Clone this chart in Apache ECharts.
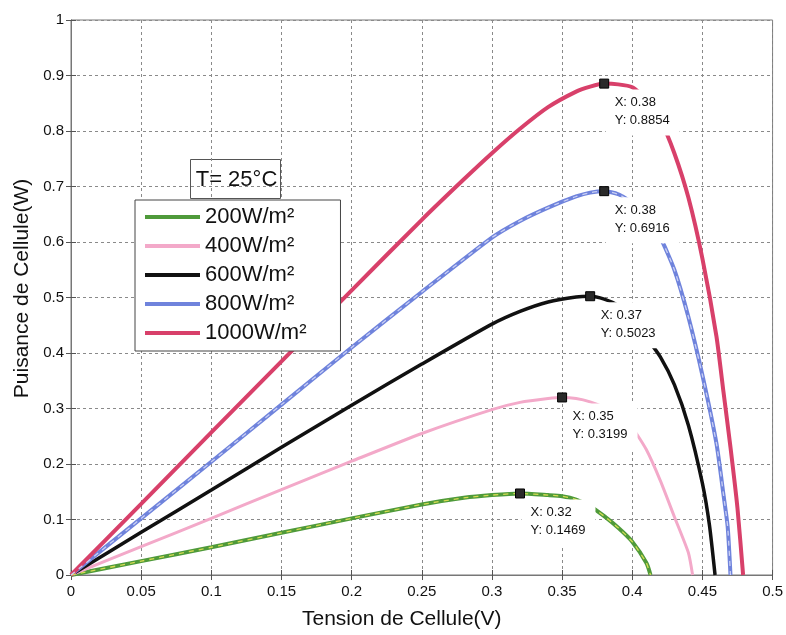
<!DOCTYPE html>
<html>
<head>
<meta charset="utf-8">
<script src="https://cdn.jsdelivr.net/npm/echarts@6/dist/echarts.min.js"></script>
<style>
  html, body { margin: 0; padding: 0; background: #fff; }
  #chart { width: 786px; height: 635px; }
</style>
</head>
<body>
<div id="chart"></div>
<script>
// P-V characteristics of a solar cell at T = 25°C for several irradiance levels
const xTicks = { min: 0, max: 0.5, step: 0.05 };
const yTicks = { min: 0, max: 1, step: 0.1 };

const seriesNames = ['200W/m²', '400W/m²', '600W/m²', '800W/m²', '1000W/m²'];

const v200 = [0, 0.05, 0.1, 0.15, 0.2, 0.25, 0.28, 0.3, 0.32, 0.34, 0.35, 0.36, 0.37, 0.38, 0.39, 0.40, 0.41, 0.413];
const p200 = [0, 0.025, 0.05, 0.076, 0.102, 0.127, 0.139, 0.144, 0.1469, 0.144, 0.142, 0.136, 0.124, 0.106, 0.085, 0.06, 0.022, 0];

const v400 = [0, 0.05, 0.1, 0.15, 0.2, 0.25, 0.3, 0.32, 0.34, 0.35, 0.36, 0.37, 0.38, 0.39, 0.40, 0.41, 0.42, 0.43, 0.44, 0.443];
const p400 = [0, 0.051, 0.102, 0.154, 0.205, 0.255, 0.298, 0.311, 0.318, 0.3199, 0.318, 0.312, 0.302, 0.286, 0.265, 0.226, 0.17, 0.105, 0.04, 0];

const v600 = [0, 0.05, 0.1, 0.15, 0.2, 0.25, 0.3, 0.32, 0.34, 0.36, 0.37, 0.38, 0.39, 0.40, 0.41, 0.42, 0.43, 0.44, 0.45, 0.455, 0.459];
const p600 = [0, 0.077, 0.153, 0.23, 0.306, 0.38, 0.452, 0.475, 0.492, 0.501, 0.5023, 0.497, 0.485, 0.46, 0.428, 0.393, 0.343, 0.27, 0.165, 0.09, 0];

const v800 = [0, 0.05, 0.1, 0.15, 0.2, 0.25, 0.3, 0.32, 0.34, 0.36, 0.37, 0.38, 0.39, 0.40, 0.41, 0.42, 0.43, 0.44, 0.45, 0.46, 0.465, 0.468, 0.47];
const p800 = [0, 0.102, 0.204, 0.307, 0.41, 0.51, 0.608, 0.638, 0.662, 0.682, 0.689, 0.6916, 0.686, 0.671, 0.645, 0.608, 0.55, 0.465, 0.36, 0.237, 0.145, 0.087, 0];

const v1000 = [0, 0.05, 0.1, 0.15, 0.2, 0.25, 0.28, 0.3, 0.32, 0.34, 0.36, 0.37, 0.38, 0.39, 0.40, 0.41, 0.42, 0.43, 0.44, 0.45, 0.46, 0.465, 0.47, 0.475, 0.479];
const p1000 = [0, 0.128, 0.257, 0.385, 0.513, 0.64, 0.713, 0.76, 0.804, 0.843, 0.871, 0.88, 0.8854, 0.884, 0.879, 0.858, 0.82, 0.76, 0.68, 0.57, 0.43, 0.33, 0.23, 0.12, 0];

// maximum power points marked with data tips
const mppV = [0.32, 0.35, 0.37, 0.38, 0.38];
const mppP = [0.1469, 0.3199, 0.5023, 0.6916, 0.8854];

const pairs = (xs, ys) => xs.map((x, i) => [x, ys[i]]);

const colors = ['#4f9a3a', '#f3a9c9', '#111111', '#6f83dc', '#d8406a'];
const widths = [4, 3, 3.5, 4, 4];
const curves = [pairs(v200, p200), pairs(v400, p400), pairs(v600, p600), pairs(v800, p800), pairs(v1000, p1000)];

const font = '"Liberation Sans", Arial, Helvetica, sans-serif';
const SMOOTH = 0.2;

const series = [];
curves.forEach((data, i) => {
  series.push({
    name: seriesNames[i],
    type: 'line',
    data: data,
    showSymbol: false,
    symbol: 'none',
    smooth: SMOOTH,
    color: colors[i],
    lineStyle: { color: colors[i], width: widths[i] },
    z: 2
  });
});
// light dashes running along the green and blue curves
series.push({
  name: 'g-dash', type: 'line', data: curves[0], symbol: 'none', smooth: SMOOTH,
  lineStyle: { color: '#d6dc52', width: 1.3, type: [5, 5] }, z: 3, silent: true
});
series.push({
  name: 'b-dash', type: 'line', data: curves[3], symbol: 'none', smooth: SMOOTH,
  lineStyle: { color: '#c9cff4', width: 1.3, type: [5, 5] }, z: 3, silent: true
});

// data tips: square marker plus an opaque white text box above the curves
series.push({
  name: 'mpp',
  type: 'scatter',
  zlevel: 1,
  data: pairs(mppV, mppP),
  symbol: 'rect',
  symbolSize: 9,
  itemStyle: { color: '#2a2a2a', borderColor: '#000', borderWidth: 1, opacity: 1 },
  z: 5,
  label: {
    show: true,
    position: [6.5, 11],
    formatter: p => 'X: ' + p.value[0] + '\nY: ' + p.value[1],
    backgroundColor: '#ffffff',
    padding: [4, 10, 6, 9],
    color: '#111',
    fontFamily: font,
    fontSize: 13,
    lineHeight: 18,
    align: 'left',
    verticalAlign: 'top'
  }
});

const chart = echarts.init(document.getElementById('chart'), null, { renderer: 'canvas' });

const gridLine = { show: true, lineStyle: { color: '#8a8a8a', width: 1, type: [3, 3] } };

chart.setOption({
  animation: false,
  backgroundColor: '#ffffff',
  grid: { left: 71, right: 8, top: 20, bottom: 59, show: true, borderColor: '#777', borderWidth: 1, backgroundColor: 'transparent' },
  legend: {
    data: seriesNames,
    orient: 'vertical',
    left: 135,
    top: 200,
    zlevel: 1,
    icon: 'rect',
    itemWidth: 55,
    itemHeight: 4,
    itemGap: 7,
    padding: [6, 34, 7, 10],
    backgroundColor: '#ffffff',
    borderColor: '#444',
    borderWidth: 1,
    borderRadius: 0,
    textStyle: { fontFamily: font, fontSize: 22, color: '#111', lineHeight: 22 }
  },
  xAxis: [{
    type: 'value', min: xTicks.min, max: xTicks.max, interval: xTicks.step,
    name: 'Tension de Cellule(V)', nameLocation: 'middle', nameGap: 34,
    nameTextStyle: { fontFamily: font, fontSize: 21, color: '#111', padding: [0, 40, 0, 0] },
    axisLine: { show: true, lineStyle: { color: '#777' } },
    axisTick: { show: true, inside: true, length: 5, lineStyle: { color: '#555' } },
    axisLabel: { fontFamily: font, fontSize: 15, color: '#111', margin: 9 },
    splitLine: gridLine
  }, {
    type: 'value', position: 'top', min: xTicks.min, max: xTicks.max, interval: xTicks.step,
    axisLine: { show: true, lineStyle: { color: '#777' } },
    axisTick: { show: true, inside: true, length: 5, lineStyle: { color: '#555' } },
    axisLabel: { show: false }, splitLine: { show: false }
  }],
  yAxis: [{
    type: 'value', min: yTicks.min, max: yTicks.max, interval: yTicks.step,
    name: 'Puisance de Cellule(W)', nameLocation: 'middle', nameGap: 34,
    nameTextStyle: { fontFamily: font, fontSize: 21, color: '#111', padding: [0, 0, 0, 18] },
    axisLine: { show: true, lineStyle: { color: '#777' } },
    axisTick: { show: true, inside: true, length: 5, lineStyle: { color: '#555' } },
    axisLabel: { fontFamily: font, fontSize: 15, color: '#111', margin: 7 },
    splitLine: gridLine
  }, {
    type: 'value', position: 'right', min: yTicks.min, max: yTicks.max, interval: yTicks.step,
    axisLine: { show: true, lineStyle: { color: '#777' } },
    axisTick: { show: true, inside: true, length: 5, lineStyle: { color: '#555' } },
    axisLabel: { show: false }, splitLine: { show: false }
  }],
  graphic: [{
    type: 'group',
    left: 190,
    top: 159,
    zlevel: 1,
    children: [{
      type: 'rect',
      shape: { x: 0, y: 0, width: 90, height: 39 },
      style: { fill: '#ffffff', stroke: '#555', lineWidth: 1 }
    }, {
      type: 'text',
      x: 46, y: 20,
      style: { text: 'T= 25°C', font: '22px ' + font, fill: '#111', align: 'center', verticalAlign: 'middle' }
    }]
  }],
  series: series
});
</script>
</body>
</html>
